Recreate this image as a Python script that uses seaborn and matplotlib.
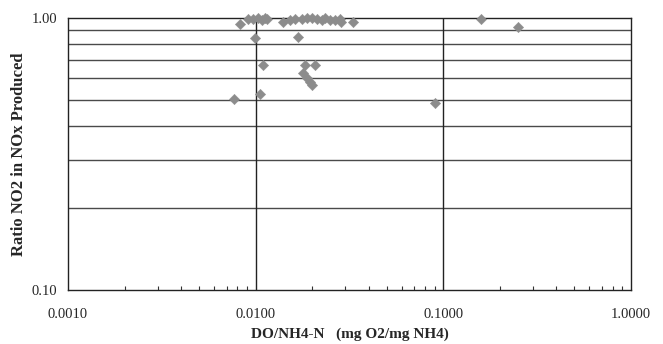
import numpy as np
import pandas as pd
import matplotlib
matplotlib.use('Agg')
import matplotlib.pyplot as plt
import matplotlib.ticker as mticker
import seaborn as sns

do_ratio = [0.00825, 0.00913, 0.00971, 0.01032, 0.01076, 0.0112, 0.01144, 0.00991,
            0.01403, 0.01523, 0.0162, 0.01686, 0.01758, 0.0187, 0.02002, 0.02113,
            0.02247, 0.02339, 0.02488, 0.02645, 0.02812, 0.02847, 0.03286,
            0.01098, 0.0105, 0.00769, 0.0183, 0.0207, 0.0179, 0.0187, 0.0194, 0.0200,
            0.0902, 0.158, 0.2507]
no2_ratio = [0.948, 0.995, 0.992, 0.997, 0.983, 1.0, 0.992, 0.842,
             0.969, 0.983, 0.992, 0.854, 0.992, 0.997, 1.0, 0.992,
             0.983, 0.997, 0.983, 0.983, 0.992, 0.964, 0.969,
             0.672, 0.524, 0.502, 0.672, 0.672, 0.626, 0.600, 0.583, 0.567,
             0.486, 0.99, 0.929]

df = pd.DataFrame({'x': do_ratio, 'y': no2_ratio})

sns.set_style('white')
plt.rcParams['font.family'] = ['Liberation Serif', 'DejaVu Serif']

fig = plt.figure(figsize=(6.63, 3.44), dpi=100)
ax = fig.add_axes([0.1026, 0.157, 0.849, 0.7907])

ax.set_xscale('log')
ax.set_yscale('log')
ax.set_xlim(0.001, 1.0)
ax.set_ylim(0.1, 1.0)

# gridlines drawn first
for v in [0.2, 0.3, 0.4, 0.5, 0.6, 0.7, 0.8, 0.9]:
    ax.axhline(v, color='#4a4a4a', lw=1.0, zorder=1)
for v in [0.01, 0.1]:
    ax.axvline(v, color='#222222', lw=1.0, zorder=1)

sns.scatterplot(data=df, x='x', y='y', marker='D', s=28, color='#8c8c8c',
                edgecolor='#8c8c8c', linewidth=0.3, ax=ax, zorder=3, clip_on=False)

ax.xaxis.set_major_locator(mticker.FixedLocator([0.001, 0.01, 0.1, 1.0]))
ax.xaxis.set_major_formatter(mticker.FixedFormatter(['0.0010', '0.0100', '0.1000', '1.0000']))
ax.xaxis.set_minor_locator(mticker.LogLocator(base=10, subs=np.arange(2, 10)))
ax.xaxis.set_minor_formatter(mticker.NullFormatter())
ax.yaxis.set_major_locator(mticker.FixedLocator([0.1, 1.0]))
ax.yaxis.set_major_formatter(mticker.FixedFormatter(['0.10', '1.00']))
ax.yaxis.set_minor_locator(mticker.NullLocator())

ax.tick_params(axis='x', which='major', direction='in', length=0, pad=13, labelsize=10.5)
ax.tick_params(axis='x', which='minor', direction='in', length=3, width=0.8, color='#333333', bottom=True)
ax.tick_params(axis='y', which='major', length=0, pad=8, labelsize=10.5)

for s in ax.spines.values():
    s.set_color('#222222')
    s.set_linewidth(1.0)

ax.set_xlabel('DO/NH4-N   (mg O2/mg NH4)', fontsize=11, fontweight='bold', labelpad=5)
ax.set_ylabel('Ratio NO2 in NOx Produced', fontsize=12, fontweight='bold', labelpad=3)

fig.savefig('out.png', dpi=100)
